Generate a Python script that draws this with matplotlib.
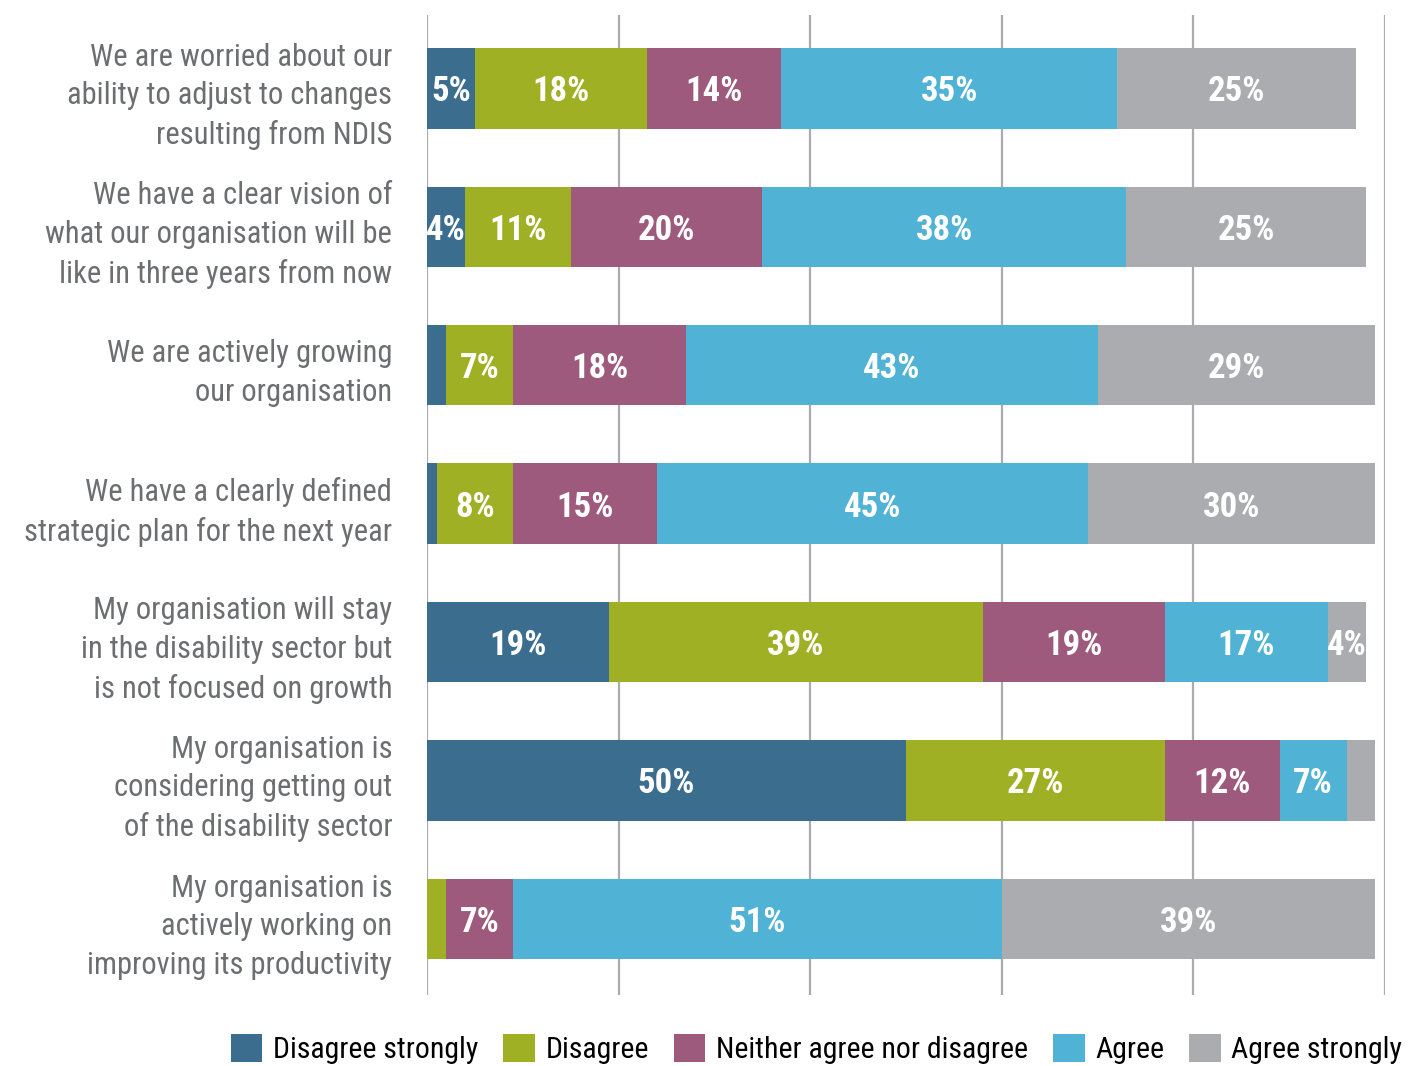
import numpy as np
import matplotlib
matplotlib.use("Agg")
import matplotlib.pyplot as plt
from matplotlib import font_manager
from matplotlib.patches import Patch

categories = [
    "We are worried about our\nability to adjust to changes\nresulting from NDIS",
    "We have a clear vision of\nwhat our organisation will be\nlike in three years from now",
    "We are actively growing\nour organisation",
    "We have a clearly defined\nstrategic plan for the next year",
    "My organisation will stay\nin the disability sector but\nis not focused on growth",
    "My organisation is\nconsidering getting out\nof the disability sector",
    "My organisation is\nactively working on\nimproving its productivity",
]

series_names = ["Disagree strongly", "Disagree", "Neither agree nor disagree",
                "Agree", "Agree strongly"]

disagree_strongly = [5, 4, 2, 1, 19, 50, 0]
disagree = [18, 11, 7, 8, 39, 27, 2]
neither = [14, 20, 18, 15, 19, 12, 7]
agree = [35, 38, 43, 45, 17, 7, 51]
agree_strongly = [25, 25, 29, 30, 4, 3, 39]

colors = ["#3B6D8F", "#9FB024", "#9D5A7C", "#50B2D4", "#ABACAF"]

# labels smaller than this are not written on the bar
MIN_LABEL = 4


def pick_font():
    # condensed face like the original, else DejaVu Sans condensed
    installed = set(f.name for f in font_manager.fontManager.ttflist)
    for name in ["Roboto Condensed", "Archivo Narrow", "Liberation Sans Narrow"]:
        if name in installed:
            return name, "normal"
    return "DejaVu Sans", "condensed"


def main():
    family, stretch = pick_font()
    plt.rcParams["font.family"] = [family, "DejaVu Sans"]
    plt.rcParams["font.stretch"] = stretch

    data = [disagree_strongly, disagree, neither, agree, agree_strongly]

    fig = plt.figure(figsize=(14.14, 10.66), dpi=100)
    ax = fig.add_axes([427 / 1414, 1 - 995 / 1066, (1385 - 427) / 1414, (995 - 15) / 1066])

    y = np.arange(len(categories))
    left = np.zeros(len(categories))

    for vals, col in zip(data, colors):
        vals = np.array(vals, dtype=float)
        ax.barh(y, vals, left=left, height=0.58, color=col, zorder=3)
        for yi, (l, v) in enumerate(zip(left, vals)):
            if v >= MIN_LABEL:
                ax.text(l + v / 2, yi, f"{int(v)}%", ha="center", va="center_baseline",
                        color="white", fontsize=25, fontweight="bold", zorder=4)
        left += vals

    ax.set_xlim(0, 100)
    ax.set_ylim(6.55, -0.53)
    ax.set_xticks([0, 20, 40, 60, 80, 100])
    ax.set_xticklabels([])
    ax.grid(axis="x", color="#ABACAF", linewidth=1.6, zorder=0)
    ax.tick_params(axis="both", length=0)
    ax.set_yticks(y)
    ax.set_yticklabels(categories, fontsize=22, color="#6D6E71", linespacing=1.42)
    ax.tick_params(axis="y", pad=25)
    for s in ax.spines.values():
        s.set_visible(False)

    handles = [Patch(facecolor=c, edgecolor="none") for c in colors]
    fig.legend(handles, series_names, loc="center", bbox_to_anchor=(0.5775, 0.016),
               ncol=5, frameon=False, fontsize=21.5, handlelength=1.05,
               handleheight=1.05, handletextpad=0.35, columnspacing=0.85,
               borderaxespad=0)

    fig.savefig("out.png", dpi=100)
    plt.close(fig)


if __name__ == "__main__":
    main()
